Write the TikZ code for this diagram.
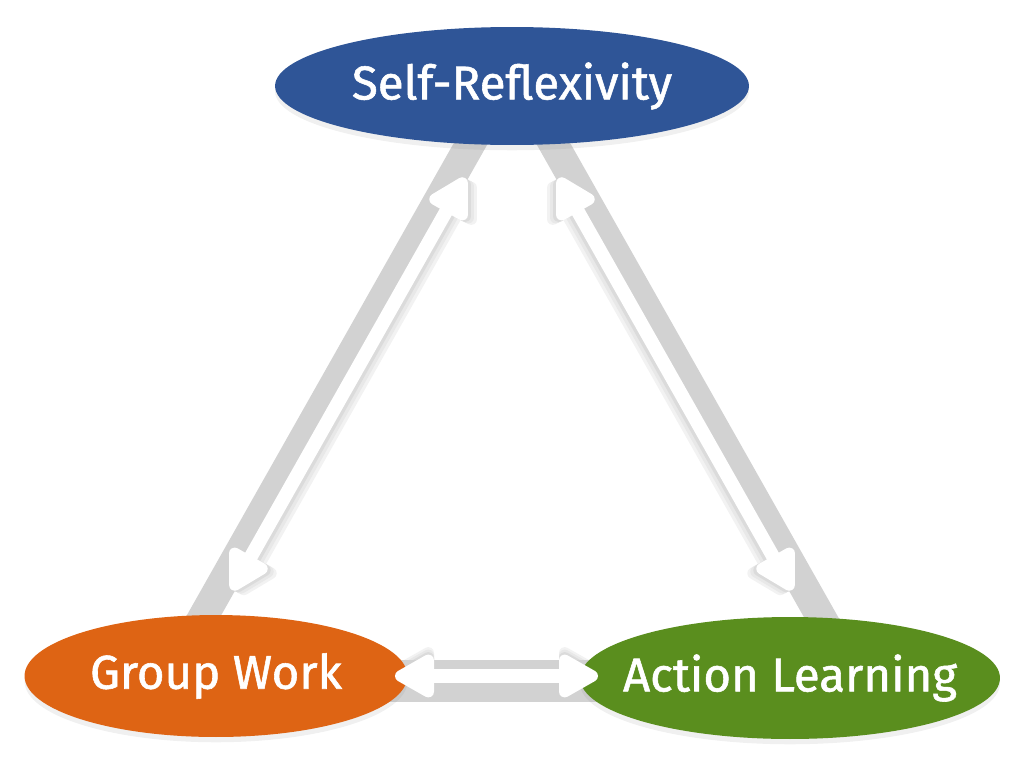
\documentclass[tikz,border=0pt]{standalone}
\usepackage{fontspec}
\setmainfont{Fira Sans}[FakeBold=1.2]
\usetikzlibrary{shapes.geometric,arrows.meta,backgrounds,shadows}
\definecolor{srblue}{HTML}{2F5597}
\definecolor{gworange}{HTML}{DE6414}
\definecolor{algreen}{HTML}{5A8E1E}
\definecolor{bandgray}{HTML}{D2D2D2}
\newcommand{\topicname}[1]{\makebox[0pt]{#1}}

\begin{document}
\begin{tikzpicture}[x=0.02cm,y=-0.02cm,
  topic/.style={ellipse,inner sep=0pt,text=white,
    font=\fontsize{27}{30}\selectfont,
    drop shadow={opacity=0.12,shadow xshift=0pt,shadow yshift=-3pt}},
  band/.style={bandgray,line width=17pt},
  twoway/.style={white,line width=7.8pt,
    {Triangle[width=27pt,length=26pt,round]}-{Triangle[width=27pt,length=26pt,round]}}]
\useasboundingbox (0,0) rectangle (1024,761);

%Topics
\node[topic,fill=srblue,minimum width=9.48cm,minimum height=2.36cm] (sr) at (512,86) {\topicname{Self-Reflexivity}};
\node[topic,fill=gworange,minimum width=7.66cm,minimum height=2.44cm] (gw) at (216,676) {\topicname{Group Work}};
\node[topic,fill=algreen,minimum width=8.4cm,minimum height=2.44cm] (al) at (790,678) {\topicname{Action Learning}};

%Band ends
\coordinate (lb1) at (190,640);
\coordinate (lb2) at (484,120);
\coordinate (rb1) at (540,120);
\coordinate (rb2) at (834,640);
\coordinate (bb1) at (216,681);
\coordinate (bb2) at (790,681);

%Arrow tips
\coordinate (lb) at (232,590);
\coordinate (lt) at (465,178);
\coordinate (rt) at (559,178);
\coordinate (rb) at (792,590);
\coordinate (bl) at (395,676);
\coordinate (br) at (598,676);

\begin{scope}[on background layer]
%Arrow shadows (soft, towards the inside)
\foreach \s/\c in {3/5,2/9,1/14}{
  \draw[twoway,black!\c,transform canvas={shift={(0.06*\s cm,-0.03*\s cm)}}] (lb) -- (lt);
  \draw[twoway,black!\c,transform canvas={shift={(-0.06*\s cm,-0.03*\s cm)}}] (rt) -- (rb);
  \draw[twoway,black!\c,transform canvas={shift={(0cm,0.05*\s cm)}}] (bl) -- (br);
}
%Gray bands
\draw[band] (lb1) -- (lb2);
\draw[band] (rb1) -- (rb2);
\draw[band,line width=24pt] (bb1) -- (bb2);
\end{scope}

%Arrows
\foreach \p/\q in {lb/lt,rt/rb,bl/br}
  \draw[twoway] (\p) -- (\q);
\end{tikzpicture}
\end{document}
